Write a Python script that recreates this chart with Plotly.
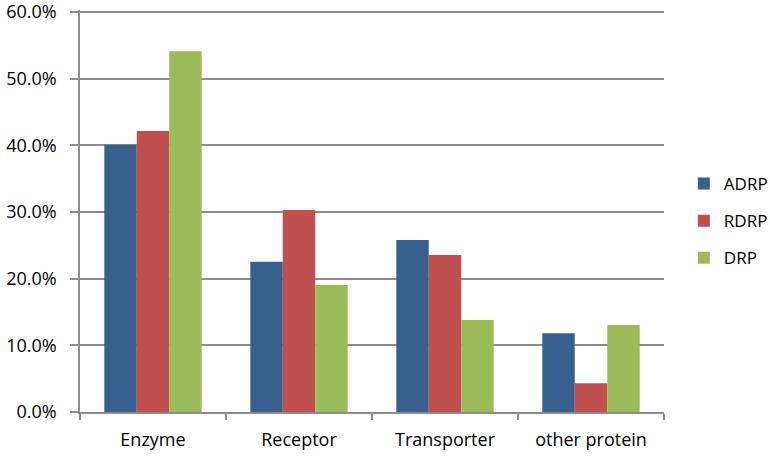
import plotly.graph_objects as go

categories = ["Enzyme", "Receptor", "Transporter", "other protein"]
adrp = [0.401, 0.2255, 0.258, 0.118]
rdrp = [0.4215, 0.303, 0.2355, 0.043]
drp = [0.541, 0.1905, 0.138, 0.1305]
y_ticks = [0, 0.1, 0.2, 0.3, 0.4, 0.5, 0.6]

series = [("ADRP", adrp, "#37608F"), ("RDRP", rdrp, "#C0504D"), ("DRP", drp, "#9BBB59")]

fig = go.Figure()
for name, vals, col in series:
    fig.add_trace(go.Bar(x=categories, y=vals, name=name, marker=dict(color=col, line=dict(width=0)),
                         legendgroup=name))

font = "Open Sans, Noto Sans, sans-serif"
fig.update_layout(
    width=770, height=456,
    margin=dict(l=80, r=106, t=10, b=44, autoexpand=False),
    paper_bgcolor="white", plot_bgcolor="white",
    barmode="group", bargap=0.333, bargroupgap=0,
    font=dict(family=font, size=18, color="#000000"),
    legend=dict(x=1.034, xanchor="left", y=0.475, yanchor="middle",
                traceorder="grouped", tracegroupgap=12,
                font=dict(size=17), itemwidth=30),
    showlegend=True,
)
fig.update_xaxes(showline=True, linecolor="#8C8C8C", linewidth=1.5, automargin=False,
                 ticks="outside", tickson="boundaries", ticklen=6, tickcolor="#8C8C8C", tickwidth=1.5,
                 ticklabelstandoff=11, ticklabeloverflow="allow",
                 showgrid=False, tickfont=dict(size=18))
fig.update_yaxes(range=[0, 0.603], tickvals=y_ticks, tickformat=".1%", automargin=False,
                 ticklabeloverflow="allow", ticklabelstandoff=10,
                 showline=True, linecolor="#8C8C8C", linewidth=1.5,
                 ticks="outside", ticklen=8, tickcolor="#8C8C8C", tickwidth=1.5,
                 showgrid=True, gridcolor="#8C8C8C", gridwidth=1.5, zeroline=False,
                 tickfont=dict(size=18))
fig.write_html("out.html", config={"displayModeBar": False},
               post_script="document.body.style.margin='0';")
